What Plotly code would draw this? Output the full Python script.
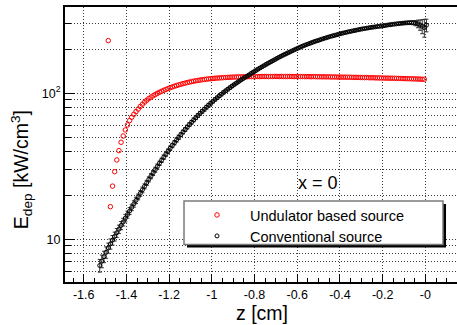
import plotly.graph_objects as go

FONT = "Liberation Sans, Arial, Helvetica, sans-serif"

# Histogram binning (bin width 0.01 cm), first bin centres
bin_width = 0.01
red_first_bin = -1.485
black_first_bin = -1.525

# Energy deposition, undulator based source [kW/cm^3]
red_edep = [
    229.0,
    16.7, 23.1, 29.0, 34.9, 40.4, 46.1, 50.9, 56.0, 60.6, 64.9, 68.4, 71.7, 74.8, 77.8, 81.0,
    84.0, 86.8, 89.4, 91.8, 94.0, 96.0, 97.9, 99.7, 101.4, 103.0,
    104.6, 106.1, 107.6, 109.0, 110.3, 111.6, 112.8, 114.0, 115.1, 116.2,
    117.2, 118.2, 119.1, 120.0, 120.8, 121.6, 122.3, 123.0, 123.6, 124.2,
    124.7, 125.2, 125.7, 126.1, 126.5, 126.9, 127.2, 127.5, 127.8, 128.0,
    128.3, 128.5, 128.7, 128.9, 129.0, 129.2, 129.3, 129.4, 129.5, 129.6,
    129.7, 129.8, 129.8,
    129.9, 130.0, 129.8, 130.1, 130.0, 130.2, 129.9, 130.1, 130.0, 130.3,
    130.1, 129.9, 130.2, 130.0, 130.1, 129.9, 130.2, 130.0, 129.8, 130.1,
    129.9, 129.9, 130.0, 129.7, 129.9, 129.8, 129.6, 129.9, 129.7, 129.5,
    129.6, 129.4, 129.5, 129.3, 129.4, 129.2, 129.1, 129.2, 128.9, 128.9,
    128.8, 128.7, 128.8, 128.5, 128.6, 128.4, 128.3, 128.4, 128.1, 128.0,
    128.1, 127.8, 127.9, 127.6, 127.5, 127.6, 127.3, 127.2, 127.2, 127.0,
    126.9, 126.8, 126.8, 126.6, 126.5, 126.4, 126.3, 126.2, 126.0, 125.9,
    125.8, 125.7, 125.6, 125.4, 125.3, 125.1, 125.0, 124.8, 124.6, 124.4,
]

# Energy deposition, conventional source [kW/cm^3]
black_edep = [
    6.61, 7.08, 7.59, 8.13, 8.71, 9.29, 9.86, 10.45, 11.07, 11.72,
    12.42, 13.12, 13.96, 14.76, 15.60, 16.52, 17.46, 18.45, 19.50, 20.61,
    21.78, 23.01, 24.32, 25.70, 27.04, 28.44, 29.92, 31.48, 33.11, 34.75,
    36.48, 38.28, 40.09, 41.98, 43.85, 45.81, 47.86, 49.89, 52.00, 54.20,
    56.36, 58.61, 60.95, 63.24, 65.61, 67.92, 70.31, 72.78, 75.16, 77.62,
    80.17, 82.79, 85.31, 87.90, 90.57, 93.11, 95.71, 98.40, 101.2, 103.8,
    106.4, 109.1, 111.9, 114.6, 117.2, 120.0, 122.7, 125.6, 128.2, 130.9,
    133.7, 136.6, 139.6, 142.6, 145.6, 148.6, 151.6, 154.5, 157.6, 160.7,
    163.7, 166.7, 169.8, 173.0, 176.2, 179.3, 182.4, 185.4, 188.4, 191.4,
    194.5, 197.7, 200.7, 203.7, 206.8, 209.9, 212.8, 215.6, 218.3, 221.1,
    223.9, 226.5, 229.1, 231.7, 234.4, 236.9, 239.3, 241.8, 244.3, 246.6,
    248.9, 251.2, 253.5, 255.9, 258.0, 260.0, 262.2, 264.2, 266.1, 267.9,
    269.8, 271.6, 273.5, 275.4, 277.0, 278.6, 280.2, 281.8, 283.1, 284.4,
    285.8, 287.1, 288.4, 289.7, 291.4, 293.0, 294.4, 295.7, 297.0, 298.3,
    299.5, 300.6, 301.6, 302.5, 303.3, 303.8, 304.0, 303.2, 301.5, 298.4,
    293.0, 287.0, 281.0, 292.0,
]

# Relative statistical error of the conventional source [%]
black_err_pct = [
    10, 10, 9, 9, 8, 8, 7.5, 7, 7, 6.5,
    6.5, 6, 6, 5.5, 5.5, 5, 5, 5, 4.5, 4.5,
    4.5, 4, 4, 4, 4, 4, 4, 4, 3.5, 3.5,
    3.5, 3.5, 3.5, 3.5, 3.5, 3.5, 3.5, 3.5, 3, 3,
    3, 3, 3, 3, 3, 3, 3, 3, 3, 3,
    3, 3, 3, 2.5, 2.5, 2.5, 2.5, 2.5, 2.5, 2.5,
    2.5, 2.5, 2.5, 2, 2, 2, 2, 2, 2, 2,
    2, 2, 2, 2, 2, 2, 2, 2, 2, 2,
    2, 2, 2, 1.8, 1.8, 1.8, 1.8, 1.8, 1.8, 1.8,
    1.8, 1.8, 1.8, 1.8, 1.8, 1.8, 1.8, 1.8, 1.8, 1.8,
    1.8, 1.8, 1.8, 1.6, 1.6, 1.6, 1.6, 1.6, 1.6, 1.6,
    1.6, 1.6, 1.6, 1.6, 1.6, 1.6, 1.6, 1.6, 1.6, 1.6,
    1.6, 1.6, 1.6, 1.6, 1.6, 1.6, 1.6, 1.6, 1.6, 1.6,
    1.6, 1.6, 1.6, 1.6, 1.6, 1.6, 1.6, 1.6, 1.6, 1.6,
    1.6, 1.6, 1.6, 1.8, 2, 2.2, 2.5, 3, 4, 6,
    8, 11, 14, 10,
]

x_tickvals = [-1.6, -1.4, -1.2, -1.0, -0.8, -0.6, -0.4, -0.2, 0.0]
x_ticktext = ["-1.6", "-1.4", "-1.2", "-1", "-0.8", "-0.6", "-0.4", "-0.2", "-0"]
y_tickvals = [10, 100]
y_ticktext = ["10", "10<sup>2</sup>"]
y_minorvals = [6, 7, 8, 9, 20, 30, 40, 50, 60, 70, 80, 90, 200, 300]

red_z = [round(red_first_bin + bin_width * i, 3) for i in range(len(red_edep))]
black_z = [round(black_first_bin + bin_width * i, 3) for i in range(len(black_edep))]
black_err = [v * p / 100.0 for v, p in zip(black_edep, black_err_pct)]

GRID = dict(showgrid=True, gridcolor="#3a3a3a", gridwidth=1, griddash="1px,2px")
LEGEND_FONT = dict(size=14.5, family=FONT, color="black")

fig = go.Figure()
fig.add_trace(go.Scatter(
    x=red_z, y=red_edep, mode="markers", name="Undulator based source",
    legend="legend",
    marker=dict(symbol="circle-open", size=4.5, color="#ff0000", line=dict(width=1)),
))
fig.add_trace(go.Scatter(
    x=black_z, y=black_edep, mode="markers", name="Conventional source",
    legend="legend2",
    marker=dict(symbol="circle-open", size=4, color="black", line=dict(width=1)),
    error_y=dict(type="data", array=black_err, color="#333333", thickness=1, width=2),
))

# legend frame with drop shadow (paper coordinates of the plot area)
fig.add_shape(type="rect", xref="paper", yref="paper",
              x0=0.3112, x1=0.972, y0=0.1255, y1=0.2836,
              fillcolor="black", line=dict(width=0), layer="above")
fig.add_shape(type="rect", xref="paper", yref="paper",
              x0=0.3036, x1=0.9643, y0=0.1364, y1=0.2945,
              fillcolor="white", line=dict(color="#7a7a7a", width=1.5), layer="above")

fig.add_annotation(text="x = 0", xref="paper", yref="paper", x=0.645, y=0.36,
                   xanchor="center", yanchor="middle", showarrow=False,
                   font=dict(size=18, family=FONT, color="black"))
fig.add_annotation(text="z [cm]", xref="paper", yref="paper", x=0.5026, y=-0.114,
                   xanchor="center", yanchor="middle", showarrow=False,
                   font=dict(size=19.5, family=FONT, color="black"))
fig.add_annotation(text="E<sub>dep</sub> [kW/cm<sup>3</sup>]", xref="paper", yref="paper",
                   x=-0.112, y=0.407, xanchor="center", yanchor="middle", textangle=-90,
                   showarrow=False, font=dict(size=19.5, family=FONT, color="black"))

fig.update_layout(
    width=457, height=325,
    margin=dict(l=65, r=0, t=7, b=43),
    paper_bgcolor="white", plot_bgcolor="white",
    font=dict(family=FONT, color="black"),
    showlegend=True,
    legend=dict(x=0.3036, y=0.3018, xanchor="left", yanchor="top",
                bgcolor="rgba(0,0,0,0)", borderwidth=0, itemwidth=56, font=LEGEND_FONT),
    legend2=dict(x=0.3036, y=0.2255, xanchor="left", yanchor="top",
                 bgcolor="rgba(0,0,0,0)", borderwidth=0, itemwidth=56, font=LEGEND_FONT),
    xaxis=dict(range=[-1.6876, 0.148], tickvals=x_tickvals, ticktext=x_ticktext,
               ticks="inside", ticklen=8, tickwidth=1, tickcolor="black",
               showline=True, linewidth=2, linecolor="black", mirror=True,
               zeroline=False, tickfont=dict(size=12.5),
               minor=dict(dtick=0.05, tick0=0, ticks="inside", ticklen=4,
                          tickcolor="black", showgrid=False),
               **GRID),
    yaxis=dict(type="log", range=[0.707, 2.590], tickvals=y_tickvals, ticktext=y_ticktext,
               ticks="inside", ticklen=10, tickwidth=1, tickcolor="black",
               showline=True, linewidth=2, linecolor="black",
               zeroline=False, tickfont=dict(size=12.5),
               minor=dict(tickvals=y_minorvals, ticks="inside", ticklen=6,
                          tickcolor="black", **GRID),
               **GRID),
)

fig.write_html("out.html")
